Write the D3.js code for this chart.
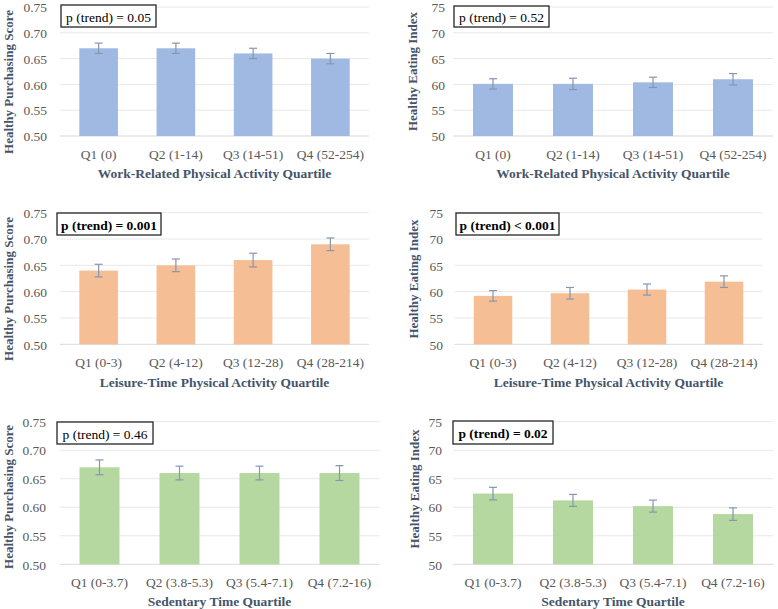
<!DOCTYPE html>
<html>
<head>
<meta charset="utf-8">
<script src="https://cdn.jsdelivr.net/npm/d3@7"></script>
<style>
  html, body { margin: 0; padding: 0; background: #ffffff; }
  svg { display: block; font-family: "Liberation Serif", "Times New Roman", Times, serif; }
</style>
</head>
<body>
<svg id="chart" width="778" height="609"></svg>
<script>
// ---- Data ----
const workCats = ["Q1 (0)", "Q2 (1-14)", "Q3 (14-51)", "Q4 (52-254)"];
const leisureCats = ["Q1 (0-3)", "Q2 (4-12)", "Q3 (12-28)", "Q4 (28-214)"];
const sedentaryCats = ["Q1 (0-3.7)", "Q2 (3.8-5.3)", "Q3 (5.4-7.1)", "Q4 (7.2-16)"];

const hpsTicks = [0.50, 0.55, 0.60, 0.65, 0.70, 0.75];
const heiTicks = [50, 55, 60, 65, 70, 75];

const workHPS = [0.67, 0.67, 0.66, 0.65];
const workHPSErr = [0.010, 0.010, 0.010, 0.010];
const workHEI = [60.1, 60.1, 60.4, 61.0];
const workHEIErr = [1.0, 1.1, 1.0, 1.1];

const leisureHPS = [0.64, 0.65, 0.66, 0.69];
const leisureHPSErr = [0.012, 0.012, 0.013, 0.012];
const leisureHEI = [59.2, 59.7, 60.4, 61.9];
const leisureHEIErr = [1.0, 1.1, 1.05, 1.1];

const sedentaryHPS = [0.67, 0.66, 0.66, 0.66];
const sedentaryHPSErr = [0.013, 0.012, 0.012, 0.013];
const sedentaryHEI = [62.4, 61.2, 60.2, 58.8];
const sedentaryHEIErr = [1.1, 1.05, 1.05, 1.1];

const pLabels = ["p (trend) = 0.05", "p (trend) = 0.52", "p (trend) = 0.001",
                 "p (trend) < 0.001", "p (trend) = 0.46", "p (trend) = 0.02"];
const pBold = [false, false, true, true, false, true];
const yTitles = ["Healthy Purchasing Score", "Healthy Eating Index"];
const xTitles = ["Work-Related Physical Activity Quartile",
                 "Leisure-Time Physical Activity Quartile",
                 "Sedentary Time Quartile"];

// ---- Layout (positions / styles) ----
const colors = ["#A0B9E3", "#F5BE95", "#B5D7A0"];
const panels = [
  {cats: workCats, vals: workHPS, errs: workHPSErr, ticks: hpsTicks, fmt: d3.format(".2f"), yTitle: 0, xTitle: 0, color: 0, p: 0,
   x0: 60, x1: 369, y0: 7, y1: 136, tickX: 47, catY: 154, titleY: 173, yTitleX: 8, yTitleY: 82, box: [61, 5, 95, 22]},
  {cats: workCats, vals: workHEI, errs: workHEIErr, ticks: heiTicks, fmt: d3.format("d"), yTitle: 1, xTitle: 0, color: 0, p: 1,
   x0: 453, x1: 773, y0: 7, y1: 136, tickX: 445, catY: 154, titleY: 173, yTitleX: 412, yTitleY: 71.5, box: [454, 6, 95, 21]},
  {cats: leisureCats, vals: leisureHPS, errs: leisureHPSErr, ticks: hpsTicks, fmt: d3.format(".2f"), yTitle: 0, xTitle: 1, color: 1, p: 2,
   x0: 60, x1: 369, y0: 212.7, y1: 344.3, tickX: 47, catY: 362, titleY: 382, yTitleX: 8, yTitleY: 289, box: [57, 213, 104, 22]},
  {cats: leisureCats, vals: leisureHEI, errs: leisureHEIErr, ticks: heiTicks, fmt: d3.format("d"), yTitle: 1, xTitle: 1, color: 1, p: 3,
   x0: 454.5, x1: 762.5, y0: 212.7, y1: 344.3, tickX: 443, catY: 362, titleY: 382, yTitleX: 413, yTitleY: 279, box: [456, 213, 103, 22]},
  {cats: sedentaryCats, vals: sedentaryHPS, errs: sedentaryHPSErr, ticks: hpsTicks, fmt: d3.format(".2f"), yTitle: 0, xTitle: 2, color: 2, p: 4,
   x0: 59.5, x1: 379.5, y0: 421.7, y1: 564.3, tickX: 46, catY: 582, titleY: 601, yTitleX: 8, yTitleY: 497, box: [57, 422, 96, 22]},
  {cats: sedentaryCats, vals: sedentaryHEI, errs: sedentaryHEIErr, ticks: heiTicks, fmt: d3.format("d"), yTitle: 1, xTitle: 2, color: 2, p: 5,
   x0: 453, x1: 773, y0: 421.7, y1: 564.3, tickX: 442, catY: 582, titleY: 601, yTitleX: 414, yTitleY: 489, box: [453, 421, 100, 23]}
];

const FONT = "'Liberation Serif', 'Times New Roman', Times, serif";
const svg = d3.select("#chart");

panels.forEach(P => {
  const g = svg.append("g");
  const x = d3.scaleBand().domain(P.cats).range([P.x0, P.x1]).paddingInner(0.5).paddingOuter(0.25);
  const y = d3.scaleLinear().domain([P.ticks[0], P.ticks[P.ticks.length - 1]]).range([P.y1, P.y0]);

  // gridlines
  g.selectAll("line.grid").data(P.ticks).join("line")
    .attr("x1", P.x0).attr("x2", P.x1)
    .attr("y1", d => y(d)).attr("y2", d => y(d))
    .attr("stroke", d => d === P.ticks[0] ? "#D9D9D9" : "#E8E8E8")
    .attr("stroke-width", 1);

  // y axis tick labels
  const yAxis = d3.axisLeft(y).tickValues(P.ticks).tickFormat(P.fmt).tickSize(0).tickPadding(0);
  const ya = g.append("g").attr("transform", `translate(${P.tickX},0)`).call(yAxis)
    .attr("font-family", FONT);
  ya.select(".domain").remove();
  ya.selectAll("text").attr("fill", "#595959").attr("font-size", 13.5).attr("dy", "0.35em");

  // bars
  g.selectAll("rect.bar").data(P.vals).join("rect")
    .attr("x", (d, i) => x(P.cats[i]))
    .attr("width", x.bandwidth())
    .attr("y", d => y(d))
    .attr("height", d => y(P.ticks[0]) - y(d))
    .attr("fill", colors[P.color]);

  // error bars
  const cap = 4;
  P.vals.forEach((v, i) => {
    const cx = x(P.cats[i]) + x.bandwidth() / 2;
    const hi = y(v + P.errs[i]), lo = y(v - P.errs[i]);
    const eg = g.append("g").attr("stroke", "#8497B0").attr("stroke-width", 1.2);
    eg.append("line").attr("x1", cx).attr("x2", cx).attr("y1", hi).attr("y2", lo);
    eg.append("line").attr("x1", cx - cap).attr("x2", cx + cap).attr("y1", hi).attr("y2", hi);
    eg.append("line").attr("x1", cx - cap).attr("x2", cx + cap).attr("y1", lo).attr("y2", lo);
  });

  // x axis category labels
  const xAxis = d3.axisBottom(x).tickSize(0).tickPadding(0);
  const xa = g.append("g").attr("transform", `translate(0,${P.catY})`).call(xAxis)
    .attr("font-family", FONT);
  xa.select(".domain").remove();
  xa.selectAll("text").attr("fill", "#595959").attr("font-size", 13.5).attr("dy", "0.35em");

  // x title
  g.append("text")
    .attr("x", (P.x0 + P.x1) / 2).attr("y", P.titleY).attr("dy", "0.35em")
    .attr("text-anchor", "middle").attr("font-weight", "bold").attr("font-size", 13.5)
    .attr("font-family", FONT)
    .attr("fill", "#44546A").text(xTitles[P.xTitle]);

  // y title
  g.append("text")
    .attr("transform", `translate(${P.yTitleX},${P.yTitleY}) rotate(-90)`)
    .attr("dy", "0.35em").attr("text-anchor", "middle").attr("font-weight", "bold").attr("font-size", 13)
    .attr("font-family", FONT)
    .attr("fill", "#44546A").text(yTitles[P.yTitle]);

  // p-value box
  const [bx, by, bw, bh] = P.box;
  g.append("rect").attr("x", bx).attr("y", by).attr("width", bw).attr("height", bh)
    .attr("fill", "#ffffff").attr("stroke", "#262626").attr("stroke-width", 1.3);
  g.append("text").attr("x", bx + bw / 2).attr("y", by + bh / 2 + 1).attr("dy", "0.35em")
    .attr("text-anchor", "middle").attr("font-size", 13.5)
    .attr("font-family", FONT)
    .attr("font-weight", pBold[P.p] ? "bold" : "normal")
    .attr("fill", "#000000").text(pLabels[P.p]);
});
</script>
</body>
</html>
